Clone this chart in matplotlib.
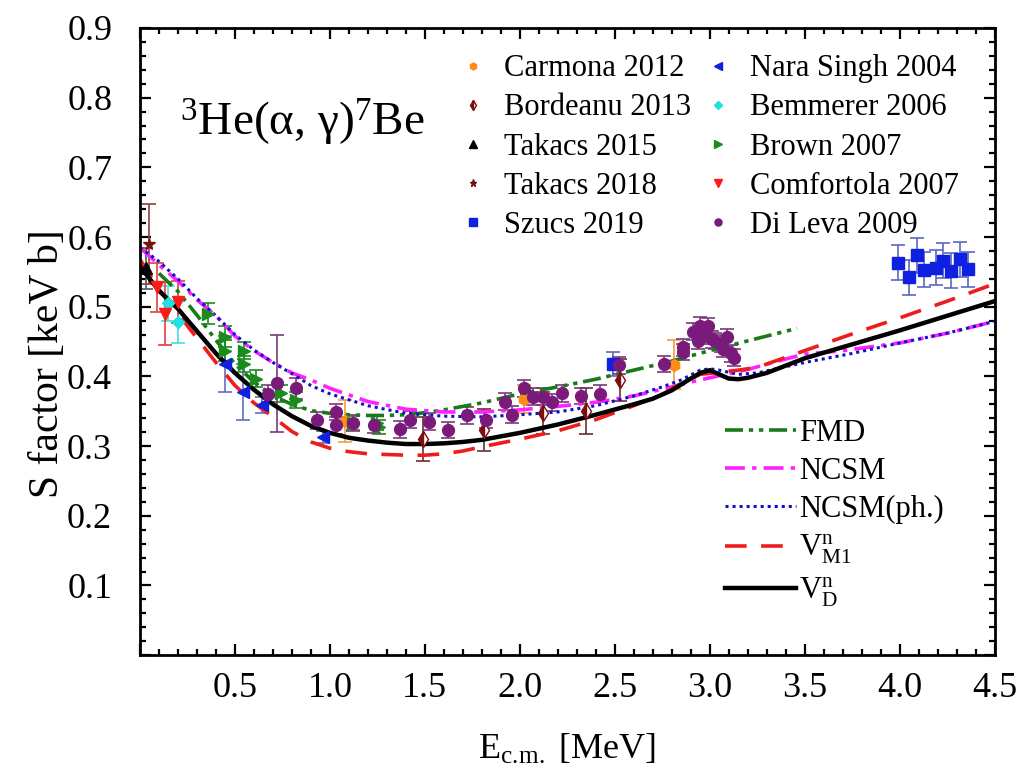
import matplotlib
matplotlib.use('Agg')
import matplotlib.pyplot as plt
import numpy as np
from matplotlib.ticker import MultipleLocator

plt.rcParams['font.family'] = ['Liberation Serif', 'DejaVu Serif']
plt.rcParams['mathtext.fontset'] = 'custom'
plt.rcParams['mathtext.rm'] = 'Liberation Serif'
plt.rcParams['mathtext.it'] = 'Liberation Serif:italic'

# ---------------- theory curves ----------------
vd_x = [0, 0.1, 0.2, 0.3, 0.4, 0.5, 0.6, 0.7, 0.8, 0.9, 1.0, 1.1, 1.2, 1.3, 1.4, 1.5, 1.6, 1.7, 1.8, 2.0,
        2.2, 2.4, 2.6, 2.7, 2.8, 2.9, 2.95, 3.0, 3.05, 3.1, 3.15, 3.2, 3.3, 3.5, 3.75, 4.0, 4.25, 4.5]
vd_y = [0.558, 0.523, 0.497, 0.465, 0.433, 0.405, 0.381, 0.36, 0.343, 0.329, 0.319, 0.312, 0.308, 0.305,
        0.303, 0.303, 0.304, 0.306, 0.309, 0.319, 0.331, 0.345, 0.36, 0.368, 0.38, 0.397, 0.405, 0.409,
        0.403, 0.397, 0.396, 0.398, 0.405, 0.426, 0.446, 0.466, 0.487, 0.508]

vm1_x = [0, 0.1, 0.2, 0.3, 0.4, 0.5, 0.6, 0.7, 0.8, 0.9, 1.0, 1.1, 1.2, 1.3, 1.4, 1.5, 1.6, 1.7, 1.8, 2.0,
         2.2, 2.4, 2.6, 2.75, 2.85, 2.95, 3.05, 3.15, 3.25, 3.5, 3.75, 4.0, 4.25, 4.5]
vm1_y = [0.568, 0.525, 0.49, 0.455, 0.42, 0.387, 0.362, 0.342, 0.321, 0.306, 0.297, 0.292, 0.289, 0.288,
         0.287, 0.287, 0.289, 0.293, 0.299, 0.31, 0.322, 0.338, 0.358, 0.374, 0.39, 0.403, 0.406, 0.409,
         0.413, 0.437, 0.461, 0.484, 0.508, 0.533]

ncsm_x = [0, 0.1, 0.2, 0.3, 0.4, 0.5, 0.6, 0.7, 0.8, 0.9, 1.0, 1.2, 1.4, 1.6, 1.8, 2.0, 2.2, 2.4, 2.6, 2.8,
          2.9, 3.0, 3.2, 3.4, 3.5, 3.7, 4.0, 4.25, 4.5]
ncsm_y = [0.585, 0.56, 0.537, 0.51, 0.487, 0.458, 0.437, 0.42, 0.405, 0.395, 0.383, 0.364, 0.353, 0.349,
          0.349, 0.352, 0.357, 0.363, 0.372, 0.385, 0.392, 0.398, 0.41, 0.425, 0.432, 0.437, 0.448, 0.462, 0.479]

ncsmph_x = [0, 0.1, 0.2, 0.3, 0.4, 0.5, 0.6, 0.7, 0.8, 0.9, 1.0, 1.2, 1.4, 1.6, 1.8, 2.0, 2.2, 2.4, 2.6, 2.75,
            2.85, 2.95, 3.0, 3.05, 3.15, 3.25, 3.5, 3.75, 4.0, 4.25, 4.5]
ncsmph_y = [0.585, 0.565, 0.54, 0.512, 0.487, 0.46, 0.438, 0.42, 0.404, 0.387, 0.375, 0.358, 0.347, 0.343,
            0.342, 0.345, 0.349, 0.358, 0.372, 0.385, 0.395, 0.409, 0.411, 0.409, 0.403, 0.405, 0.42, 0.433,
            0.448, 0.462, 0.479]

fmd_x = [0.1, 0.2, 0.3, 0.4, 0.5, 0.6, 0.7, 0.8, 0.9, 1.0, 1.1, 1.2, 1.3, 1.4, 1.5, 1.6, 1.8, 2.0, 2.2, 2.4,
         2.6, 2.8, 3.0, 3.2, 3.46]
fmd_y = [0.548, 0.522, 0.488, 0.452, 0.418, 0.392, 0.372, 0.36, 0.351, 0.347, 0.345, 0.344, 0.344, 0.345,
         0.348, 0.352, 0.362, 0.375, 0.385, 0.396, 0.409, 0.422, 0.437, 0.451, 0.469]

# ---------------- experimental data ----------------
carmona_x = [1.08, 2.02, 2.81]
carmona_y = [0.336, 0.367, 0.417]
carmona_e = [0.03, 0.02, 0.035]

bordeanu_x = [1.49, 1.81, 2.12, 2.35, 2.53]
bordeanu_y = [0.31, 0.323, 0.347, 0.351, 0.395]
bordeanu_e = [0.032, 0.03, 0.03, 0.033, 0.03]

takacs15_x = [0.03]
takacs15_y = [0.555]
takacs15_e = [0.03]

takacs18_x = [0.05]
takacs18_y = [0.59]
takacs18_e = [0.058]

szucs_x = [2.49, 3.99, 4.05, 4.09, 4.13, 4.19, 4.23, 4.27, 4.32, 4.36]
szucs_y = [0.418, 0.563, 0.542, 0.574, 0.553, 0.556, 0.566, 0.552, 0.568, 0.554]
szucs_e = [0.017, 0.025, 0.025, 0.025, 0.025, 0.025, 0.025, 0.025, 0.025, 0.025]

nara_x = [0.45, 0.54, 0.64, 0.965]
nara_y = [0.418, 0.378, 0.359, 0.313]
nara_e = [0.04, 0.04, 0.012, 0.008]

bemmerer_x = [0.15, 0.2]
bemmerer_y = [0.505, 0.478]
bemmerer_e = [0.025, 0.03]

brown_x = [0.36, 0.45, 0.45, 0.55, 0.55, 0.61, 0.74, 0.82, 1.12, 1.25, 1.26]
brown_y = [0.49, 0.457, 0.437, 0.437, 0.418, 0.397, 0.376, 0.366, 0.333, 0.333, 0.327]
brown_e = [0.015, 0.015, 0.015, 0.012, 0.012, 0.012, 0.012, 0.012, 0.01, 0.01, 0.01]

comf_x = [0.09, 0.13, 0.2]
comf_y = [0.528, 0.49, 0.507]
comf_e = [0.035, 0.045, 0.03]

dileva_x = [0.675, 0.72, 0.82, 0.93, 1.03, 1.03, 1.12, 1.23, 1.37, 1.42, 1.52, 1.62, 1.72, 1.82, 1.92, 1.96,
            2.02, 2.07, 2.12, 2.17, 2.22, 2.32, 2.42, 2.52, 2.76, 2.86, 2.86, 2.91, 2.95, 2.99, 2.94, 2.97,
            3.01, 3.03, 3.06, 3.09, 3.07, 3.11, 3.13]
dileva_y = [0.375, 0.39, 0.383, 0.337, 0.349, 0.33, 0.333, 0.331, 0.324, 0.338, 0.335, 0.323, 0.344, 0.338,
            0.364, 0.345, 0.383, 0.371, 0.371, 0.363, 0.376, 0.372, 0.375, 0.416, 0.418, 0.442, 0.435, 0.464,
            0.473, 0.472, 0.451, 0.458, 0.453, 0.451, 0.447, 0.456, 0.44, 0.433, 0.427]
dileva_e = [0.012, 0.07, 0.015, 0.012, 0.012, 0.012, 0.012, 0.012, 0.012, 0.012, 0.012, 0.012, 0.012, 0.012,
            0.012, 0.012, 0.012, 0.012, 0.012, 0.012, 0.012, 0.012, 0.012, 0.012, 0.012, 0.012, 0.012, 0.012,
            0.012, 0.012, 0.012, 0.012, 0.012, 0.012, 0.012, 0.012, 0.012, 0.012, 0.012]

xticks = [0, 0.5, 1.0, 1.5, 2.0, 2.5, 3.0, 3.5, 4.0, 4.5]
xticklabels = ['', '0.5', '1.0', '1.5', '2.0', '2.5', '3.0', '3.5', '4.0', '4.5']
yticks = [0, 0.1, 0.2, 0.3, 0.4, 0.5, 0.6, 0.7, 0.8, 0.9]
yticklabels = ['', '0.1', '0.2', '0.3', '0.4', '0.5', '0.6', '0.7', '0.8', '0.9']

fig = plt.figure(figsize=(10.18, 7.69), dpi=100)
ax = fig.add_axes([0.1375, 0.148, 0.8395, 0.8156])

ms = 8.5
eb_kw = dict(linestyle='none', elinewidth=1.2, capsize=5, capthick=1.2, markersize=ms)

h_carm = ax.errorbar(carmona_x, carmona_y, yerr=carmona_e, fmt='h', color='#ff8c1a', ecolor='#f0a040', **eb_kw)
h_bord = ax.errorbar(bordeanu_x, bordeanu_y, yerr=bordeanu_e, fmt='d', color='#7a1010', ecolor='#6a3030',
                     fillstyle='left', markerfacecoloralt='white', **eb_kw)
h_t15 = ax.errorbar(takacs15_x, takacs15_y, yerr=takacs15_e, fmt='^', color='black', ecolor='#555555', **eb_kw)
h_t18 = ax.errorbar(takacs18_x, takacs18_y, yerr=takacs18_e, fmt='*', color='#7a1010', ecolor='#8a4040', **eb_kw)
h_szu = ax.errorbar(szucs_x, szucs_y, yerr=szucs_e, fmt='s', color='#1020e0', ecolor='#5a68c0', **eb_kw)
h_nar = ax.errorbar(nara_x, nara_y, yerr=nara_e, fmt='<', color='#1020e0', ecolor='#6070c0', **eb_kw)
h_bem = ax.errorbar(bemmerer_x, bemmerer_y, yerr=bemmerer_e, fmt='D', color='#20e0e0', ecolor='#40e0e0',
                    **dict(eb_kw, markersize=6.5))
h_bro = ax.errorbar(brown_x, brown_y, yerr=brown_e, fmt='>', color='#1a8c1a', ecolor='#1a8c1a', **eb_kw)
h_com = ax.errorbar(comf_x, comf_y, yerr=comf_e, fmt='v', color='#ff1a1a', ecolor='#e04040', **eb_kw)
h_dil = ax.errorbar(dileva_x, dileva_y, yerr=dileva_e, fmt='o', color='#7a1a7a', ecolor='#7a3a7a', **eb_kw)

l_fmd, = ax.plot(fmd_x, fmd_y, color='#1a7a1a', lw=2.6, dashes=(5, 1.6, 1.2, 1.6, 1.2, 1.6), label='FMD')
l_ncsm, = ax.plot(ncsm_x, ncsm_y, color='#ff20ff', lw=2.6, dashes=(5.5, 2, 1.2, 2), label='NCSM')
l_ncph, = ax.plot(ncsmph_x, ncsmph_y, color='#1010c8', lw=2.2, dashes=(1, 1.3), label='NCSM(ph.)')
l_vm1, = ax.plot(vm1_x, vm1_y, color='#ee1c1c', lw=2.6, dashes=(6, 4), label=r'$\mathrm{V}^{\mathrm{n}}_{\mathrm{M1}}$')
l_vd, = ax.plot(vd_x, vd_y, color='black', lw=3.2, label=r'$\mathrm{V}^{\mathrm{n}}_{\mathrm{D}}$')

ax.set_xlim(0, 4.5)
ax.set_ylim(0, 0.9)
ax.set_xticks(xticks)
ax.set_xticklabels(xticklabels)
ax.set_yticks(yticks)
ax.set_yticklabels(yticklabels)
ax.xaxis.set_minor_locator(MultipleLocator(0.1))
ax.yaxis.set_minor_locator(MultipleLocator(0.02))
ax.tick_params(which='both', direction='in', top=True, right=True, width=1.6, labelsize=26)
ax.tick_params(which='major', length=8)
ax.tick_params(which='minor', length=4.5)
ax.tick_params(axis='x', pad=12)
ax.tick_params(axis='y', pad=20)
for s in ax.spines.values():
    s.set_linewidth(2)

ax.set_xlabel(r'E$_{\mathrm{c.\!m.}}$ [MeV]', fontsize=26, labelpad=20)
ax.set_ylabel('S factor [keV b]', fontsize=30)
ax.yaxis.set_label_coords(-0.085, 0.465)

ax.text(0.047, 0.829, r'$^{\mathrm{3}}$He(α, γ)$^{\mathrm{7}}$Be', transform=ax.transAxes, fontsize=34,
        ha='left', va='baseline')

data_handles = [h_carm[0], h_bord[0], h_t15[0], h_t18[0], h_szu[0], h_nar[0], h_bem[0], h_bro[0], h_com[0], h_dil[0]]
data_labels = ['Carmona 2012', 'Bordeanu 2013', 'Takacs 2015', 'Takacs 2018', 'Szucs 2019',
               'Nara Singh 2004', 'Bemmerer 2006', 'Brown 2007', 'Comfortola 2007', 'Di Leva 2009']
leg1 = ax.legend(data_handles, data_labels, loc='upper left', bbox_to_anchor=(0.375, 0.958), ncol=2,
                 frameon=False, fontsize=22, markerscale=0.6, handlelength=0.8, handletextpad=0.62,
                 columnspacing=0.5, labelspacing=0.33, borderpad=0, borderaxespad=0)
ax.add_artist(leg1)

ax.legend([l_fmd, l_ncsm, l_ncph, l_vm1, l_vd], ['FMD', 'NCSM', 'NCSM(ph.)',
          r'$\mathrm{V}^{\mathrm{n}}_{\mathrm{M1}}$', r'$\mathrm{V}^{\mathrm{n}}_{\mathrm{D}}$'],
          loc='upper left', bbox_to_anchor=(0.685, 0.377), frameon=False, fontsize=22,
          handlelength=2.3, handletextpad=0.12, labelspacing=0.3, borderpad=0, borderaxespad=0)

fig.savefig('out.png', dpi=100)
